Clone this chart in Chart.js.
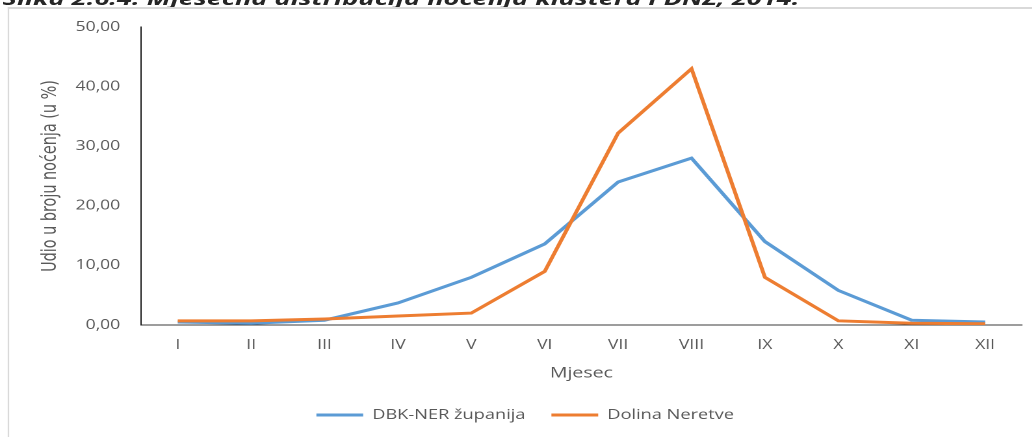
<!DOCTYPE html>
<html>
<head>
<meta charset="utf-8">
<script src="https://cdn.jsdelivr.net/npm/chart.js@4.4.0/dist/chart.umd.min.js"></script>
<style>
  html, body { margin: 0; padding: 0; background: #fff; overflow: hidden; }
  #page { position: relative; width: 1032px; height: 437px; overflow: hidden; }
  /* the source picture is stretched sideways, so the whole chart is drawn narrow and scaled */
  #wrap {
    position: absolute; left: 0; top: 0; width: 794px; height: 437px;
    transform: scaleX(1.3); transform-origin: 0 0;
  }
  #caption {
    position: absolute; left: 2px; top: -14px; white-space: nowrap;
    font: italic bold 18px "Open Sans", sans-serif; color: #262626;
    transform: scaleX(1.16); transform-origin: 0 0;
  }
  #frame {
    position: absolute; left: 6px; top: 7px; width: 900px; height: 500px;
    border-left: 1.5px solid #d9d9d9; border-top: 2px solid #d9d9d9;
  }
  #chart { position: absolute; left: 0; top: 0; }
</style>
</head>
<body>
<div id="page">
  <div id="wrap">
    <div id="caption">Slika 2.6.4. Mjesečna distribucija noćenja klastera i DNŽ, 2014.</div>
    <div id="frame"></div>
    <canvas id="chart" width="794" height="437"></canvas>
  </div>
</div>
<script>
var months = ["I", "II", "III", "IV", "V", "VI", "VII", "VIII", "IX", "X", "XI", "XII"];
var dbkNer = [0.5, 0.3, 0.8, 3.7, 8.0, 13.6, 24.0, 28.0, 14.0, 5.8, 0.8, 0.5];
var dolinaNeretve = [0.7, 0.7, 1.0, 1.5, 2.0, 9.0, 32.2, 43.0, 8.0, 0.7, 0.3, 0.2];
var yTicks = [0, 10, 20, 30, 40, 50];

var textColor = '#595959';
var ctx = document.getElementById('chart').getContext('2d');

new Chart(ctx, {
    type: 'line',
    data: {
        labels: months,
        datasets: [{
            label: 'DBK-NER županija',
            data: dbkNer,
            borderColor: '#5B9BD5',
            backgroundColor: '#5B9BD5',
            borderWidth: 3,
            pointRadius: 0,
            tension: 0,
            order: 1
        }, {
            label: 'Dolina Neretve',
            data: dolinaNeretve,
            borderColor: '#ED7D31',
            backgroundColor: '#ED7D31',
            borderWidth: 3,
            pointRadius: 0,
            tension: 0,
            order: 0
        }]
    },
    options: {
        responsive: false,
        animation: false,
        devicePixelRatio: 2,
        layout: {
            padding: { left: 22, top: 27, right: 8, bottom: 5 }
        },
        plugins: {
            tooltip: { enabled: false },
            legend: {
                position: 'bottom',
                reverse: true,
                labels: {
                    usePointStyle: true,
                    pointStyle: 'line',
                    pointStyleWidth: 36,
                    boxHeight: 14,
                    padding: 20,
                    color: textColor,
                    font: { family: 'Open Sans', size: 14 }
                }
            }
        },
        scales: {
            x: {
                offset: true,
                grid: { display: false, drawTicks: false },
                border: { display: true, color: '#3a3a3a', width: 1 },
                ticks: {
                    color: textColor,
                    padding: 12,
                    font: { family: 'Open Sans', size: 13.5 }
                },
                title: {
                    display: true,
                    text: 'Mjesec',
                    color: textColor,
                    padding: { top: 0, bottom: 6 },
                    font: { family: 'Open Sans', size: 15 }
                },
                afterFit: function (s) { s.height = 63; }
            },
            y: {
                min: 0,
                max: 50,
                grid: { display: false, drawTicks: false },
                border: { display: true, color: '#1a1a1a', width: 1 },
                afterBuildTicks: function (s) {
                    s.ticks = yTicks.map(function (v) { return { value: v }; });
                },
                ticks: {
                    color: textColor,
                    padding: 16,
                    font: { family: 'Open Sans', size: 13.5 },
                    callback: function (v) { return v.toFixed(2).replace('.', ','); }
                },
                title: {
                    display: true,
                    text: 'Udio u broju noćenja (u %)',
                    color: textColor,
                    padding: { top: 7, bottom: 0 },
                    font: { family: "'Liberation Sans Narrow', 'DejaVu Sans Condensed', sans-serif", size: 16 }
                },
                afterFit: function (s) { s.width = 86.5; }
            }
        }
    }
});
</script>
</body>
</html>
